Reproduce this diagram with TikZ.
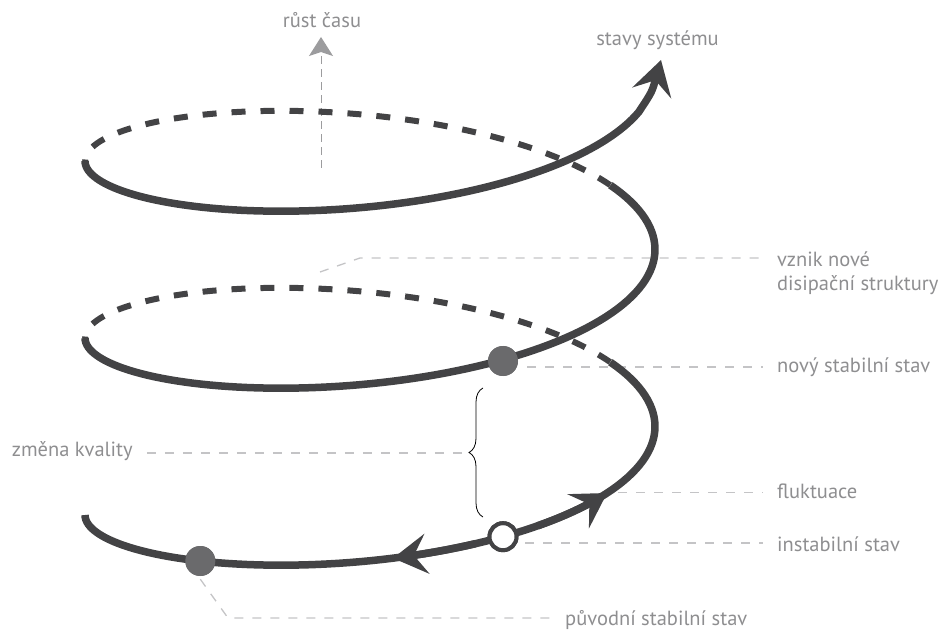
\documentclass[tikz,border=0pt]{standalone}
\usepackage{fontspec}
\setmainfont{PT Sans}
\usetikzlibrary{arrows.meta,decorations.pathreplacing,calc}

\definecolor{spiral}{HTML}{434345}
\definecolor{dotgray}{HTML}{6A6A6C}
\definecolor{labelgray}{HTML}{8E8E90}
\definecolor{leadergray}{HTML}{C4C4C6}
\definecolor{timegray}{HTML}{9C9C9E}

% helix: x = 370 - 285 cos t,  y = 515 - 28.17 t + 90 sin t  (y grows downwards)
\newcommand{\hX}[1]{370-285*cos((#1) r)}
\newcommand{\hY}[1]{515-28.17*(#1)+90*sin((#1) r)}

\begin{document}
\begin{tikzpicture}[x=1pt,y=-1pt,
  front/.style={line width=7.5pt, draw=spiral, line cap=butt},
  back/.style={line width=6pt, draw=spiral, dash pattern=on 14pt off 15pt},
  bigtip/.style={-{Stealth[length=34pt,width=40pt,inset=13pt]}},
  leader/.style={draw=leadergray, line width=1.3pt, dash pattern=on 9pt off 9pt},
  lbl/.style={text=labelgray, font=\fontsize{20.5}{24}\selectfont, inner sep=0pt},
  dot/.style={circle, fill=dotgray, minimum size=30pt, inner sep=0pt},
  opendot/.style={circle, fill=white, draw=spiral, line width=4pt, minimum size=27pt, inner sep=0pt},
]
\useasboundingbox (0,0) rectangle (946,631);

% state markers
\node[dot] (d1) at (200.3,561.0) {};
\node[opendot] (d2) at (503.0,536.7) {};
\node[dot] (d3) at (503.0,361.0) {};

% labels
\node[lbl, anchor=base] (tlab) at (322,27.5) {růst času};
\node[lbl, anchor=base] (slab) at (657.5,46) {stavy systému};
\node[lbl, anchor=base west] (lv1) at (777,266.5) {vznik nové};
\node[lbl, anchor=base west] (lv2) at (777,290.5) {disipační struktury};
\node[lbl, anchor=base west] (lnov) at (777,373) {nový stabilní stav};
\node[lbl, anchor=base west] (lflu) at (777,498.5) {fluktuace};
\node[lbl, anchor=base west] (lins) at (777,551.5) {instabilní stav};
\node[lbl, anchor=base west] (lpuv) at (565,625) {původní stabilní stav};
\node[lbl, anchor=base west] (lzme) at (11.7,456.7) {změna kvality};

% leader lines
\coordinate (vz) at (320,272);
\coordinate (br) at (468,453);
\coordinate (flu) at (618,492.5);
\draw[leader] (vz) -- (360,258) -- (763,258);
\draw[leader] (527,367) -- (763,367);
\draw[leader] (flu) -- (763,492.5);
\draw[leader] (525,543) -- (763,543);
\draw[leader] (d1.south) ++(0,3) -- (228,618) -- (557,618);
\draw[leader] (lzme.east |- br) ++(14,0) -- (br);

% time axis
\draw[draw=timegray, line width=1pt, dash pattern=on 8pt off 5pt,
      -{Stealth[length=19pt,width=24pt,inset=4pt]}] (321,168) -- (321,37);

% brace
\draw[line width=0.8pt, decorate, decoration={brace, amplitude=14pt}]
  (483,517) -- (483,388);

% hidden (back) arcs
\draw[back] plot[domain=3.71:6.2832, samples=80, variable=\t] ({\hX{\t}},{\hY{\t}});
\draw[back] plot[domain=9.993:12.566, samples=80, variable=\t] ({\hX{\t}},{\hY{\t}});

% visible (front) arcs
\draw[front] plot[domain=0:3.71, samples=100, variable=\t] ({\hX{\t}},{\hY{\t}});
\draw[front] plot[domain=6.2832:9.993, samples=100, variable=\t] ({\hX{\t}},{\hY{\t}});
\draw[front, bigtip] plot[domain=12.566:15.37, samples=90, variable=\t] ({\hX{\t}},{\hY{\t}})
  .. controls (652,92) .. (661,60);

% direction arrows on the lowest turn
\draw[front, bigtip] plot[domain=1.95:1.6516, samples=12, variable=\t] ({\hX{\t}},{\hY{\t}});
\draw[front, bigtip] plot[domain=2.2:2.5536, samples=12, variable=\t] ({\hX{\t}},{\hY{\t}});

% markers on top of the curve
\node[dot] at (d1) {};
\node[opendot] at (d2) {};
\node[dot] at (d3) {};
\end{tikzpicture}
\end{document}
